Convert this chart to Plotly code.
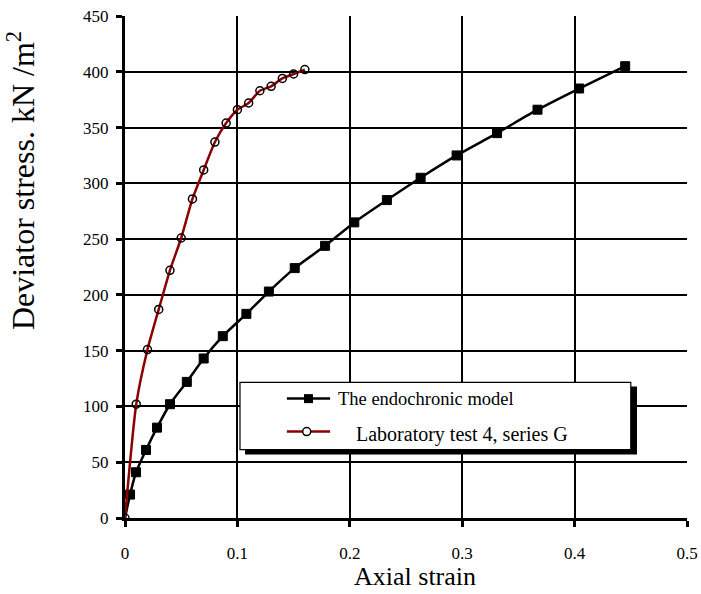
import plotly.graph_objects as go

# Endochronic model (black squares)
model_strain = [0.0, 0.0045, 0.0098, 0.0187, 0.0285, 0.040, 0.055, 0.070, 0.087, 0.108, 0.128,
                0.151, 0.178, 0.204, 0.233, 0.263, 0.295, 0.331, 0.367, 0.404, 0.445]
model_stress = [0, 21, 41, 61, 81, 102, 122, 143, 163, 183, 203,
                224, 244, 265, 285, 305, 325, 345, 366, 385, 405]

# Laboratory test 4, series G (red line, open circles)
lab_strain = [0.0, 0.01, 0.02, 0.03, 0.04, 0.05, 0.06, 0.07, 0.08, 0.09, 0.10,
              0.11, 0.12, 0.13, 0.14, 0.15, 0.16]
lab_stress = [0, 102, 151, 187, 222, 251, 286, 312, 337, 354, 366,
              372, 383, 387, 394, 398, 402]

x_ticks = [0, 0.1, 0.2, 0.3, 0.4, 0.5]
x_tick_labels = ["0", "0.1", "0.2", "0.3", "0.4", "0.5"]
y_ticks = [0, 50, 100, 150, 200, 250, 300, 350, 400, 450]

legend_names = ["The endochronic model", "Laboratory test 4, series G"]
x_title = "Axial strain"
y_title = "Deviator stress. kN /m<sup>2</sup>"

FONT = "Liberation Serif"
RED = "#8b0000"

fig = go.Figure()
fig.add_trace(go.Scatter(
    x=model_strain, y=model_stress, mode="lines+markers",
    line=dict(color="black", width=2.5, shape="spline", smoothing=0.6),
    marker=dict(symbol="square", size=[0] + [9] * (len(model_strain) - 1), color="black",
                opacity=1, line=dict(color="black", width=1)),
    name=legend_names[0], showlegend=False))
fig.add_trace(go.Scatter(
    x=lab_strain, y=lab_stress, mode="lines+markers",
    line=dict(color=RED, width=2.5, shape="spline", smoothing=0.6),
    marker=dict(symbol="circle", size=8, color="rgba(255,255,255,0)",
                line=dict(color="black", width=1.5)),
    name=legend_names[1], showlegend=False))

axis_common = dict(showgrid=True, gridcolor="black", gridwidth=1.5, zeroline=False,
                   showline=True, linecolor="black", linewidth=3, automargin=False,
                   ticks="outside", ticklen=6, tickwidth=2.5, tickcolor="black",
                   tickfont=dict(family=FONT, size=17, color="black"))

fig.update_xaxes(range=[0, 0.5], tickvals=x_ticks, ticktext=x_tick_labels,
                 ticklabelstandoff=12, **axis_common)
fig.update_yaxes(range=[0, 450], tickvals=y_ticks, ticklabelstandoff=4, **axis_common)

# Manual legend box with shadow
L_x0, L_x1, L_y0, L_y1 = 0.2046, 0.900, 0.1363, 0.2702
shapes = [
    dict(type="rect", xref="paper", yref="paper", x0=L_x0 + 0.009, x1=L_x1 + 0.011,
         y0=L_y0 - 0.010, y1=L_y1 - 0.008, fillcolor="black", line=dict(width=0), layer="above"),
    dict(type="rect", xref="paper", yref="paper", x0=L_x0, x1=L_x1, y0=L_y0, y1=L_y1,
         fillcolor="white", line=dict(color="black", width=1.2), layer="above"),
    dict(type="line", xref="paper", yref="paper", x0=0.288, x1=0.365, y0=0.2378, y1=0.2378,
         line=dict(color="black", width=2.5), layer="above"),
    dict(type="rect", xref="paper", yref="paper", xsizemode="pixel", ysizemode="pixel",
         xanchor=0.3265, yanchor=0.2378, x0=-4.5, x1=4.5, y0=-4.5, y1=4.5,
         fillcolor="black", line=dict(width=0), layer="above"),
    dict(type="line", xref="paper", yref="paper", x0=0.288, x1=0.365, y0=0.1721, y1=0.1721,
         line=dict(color=RED, width=2.5), layer="above"),
    dict(type="circle", xref="paper", yref="paper", xsizemode="pixel", ysizemode="pixel",
         xanchor=0.3233, yanchor=0.1721, x0=-4, x1=4, y0=-4, y1=4,
         fillcolor="white", line=dict(color="black", width=1.5), layer="above"),
]

annotations = [
    dict(text=legend_names[0],
         xref="paper", yref="paper", x=0.3754, y=0.2378,
         xanchor="left", yanchor="middle", showarrow=False,
         font=dict(family=FONT, size=18.5, color="black")),
    dict(text=legend_names[1], xref="paper", yref="paper", x=0.4075, y=0.167,
         xanchor="left", yanchor="middle", showarrow=False,
         font=dict(family=FONT, size=20, color="black")),
    dict(text=x_title, xref="paper", yref="paper", x=0.516, y=-0.116,
         xanchor="center", yanchor="middle", showarrow=False,
         font=dict(family=FONT, size=26, color="black")),
    dict(text=y_title, xref="paper", yref="paper", x=-0.186, y=0.672, textangle=-90,
         xanchor="center", yanchor="middle", showarrow=False,
         font=dict(family=FONT, size=32, color="black")),
]

fig.update_layout(
    width=701, height=594,
    margin=dict(l=125, r=14, t=16, b=75.5),
    paper_bgcolor="white", plot_bgcolor="white",
    font=dict(family=FONT, color="black"),
    shapes=shapes, annotations=annotations, showlegend=False,
)

fig.write_html("out.html")
